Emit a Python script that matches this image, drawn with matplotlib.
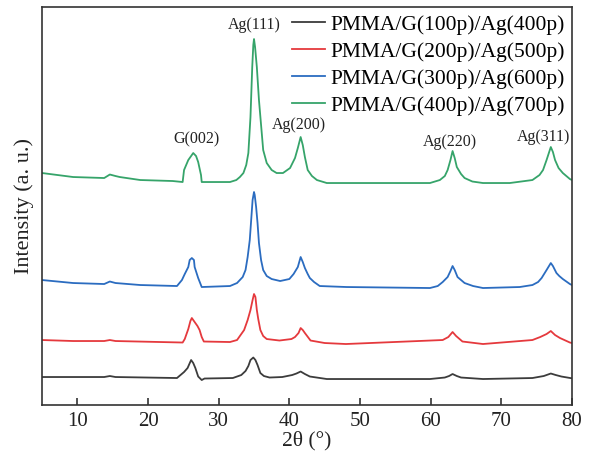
import matplotlib
matplotlib.use("Agg")
import matplotlib.pyplot as plt

plt.rcParams['font.family'] = ['Liberation Serif', 'DejaVu Serif']

# XRD patterns, stacked with an offset (arbitrary units)
two_theta_1 = [5.0, 13.8, 14.6, 15.4, 24.1, 24.6, 25.1, 25.6, 26.1, 26.4, 26.7, 27.1, 27.6,
               28.0, 32.0, 33.2, 33.8, 34.2, 34.5, 34.9, 35.2, 35.5, 35.9, 36.4, 37.2, 39.0,
               40.4, 41.0, 41.6, 42.2, 42.9, 45.3, 59.9, 62.0, 62.6, 63.1, 63.7, 64.3, 67.4,
               74.4, 76.0, 77.0, 77.7, 78.5, 80.0]
counts_1 = [28, 28, 29, 28, 27, 30, 33, 37, 45, 42, 37, 28.5, 25,
            26.5, 27, 30, 34, 39, 45, 47.5, 45, 40, 32, 29, 27.5, 28,
            30, 31.5, 33.5, 31, 28.5, 26, 26, 27.5, 29, 31, 29, 27.5, 26,
            27, 29, 31.5, 30, 28.5, 26.7]

two_theta_2 = [5.0, 9.4, 13.8, 14.6, 15.4, 24.9, 25.2, 25.7, 26.0, 26.2, 26.6, 27.0, 27.3,
               27.6, 27.9, 31.6, 32.6, 33.6, 34.1, 34.5, 34.8, 35.0, 35.2, 35.4, 35.6, 35.9,
               36.3, 36.8, 38.6, 40.3, 40.8, 41.3, 41.6, 41.9, 42.2, 43.0, 45.0, 48.0, 61.7,
               62.5, 63.1, 63.6, 64.5, 67.4, 74.4, 75.5, 76.4, 77.0, 77.6, 78.3, 79.7, 80.0]
counts_2 = [65, 64, 64, 65, 64, 62.5, 66, 76, 84, 87, 83, 79, 75,
            68, 63.5, 63, 65, 75, 85, 95, 105, 111, 108, 95, 86, 75,
            69, 66, 64.5, 66, 68, 72, 77, 75, 72, 64.5, 62, 61, 65,
            68, 73, 69, 63.5, 61, 65, 68, 71, 74, 70, 67, 62.5, 62]

two_theta_3 = [5.0, 9.4, 13.8, 14.6, 15.4, 18.9, 24.1, 24.8, 25.2, 25.7, 25.9, 26.2, 26.5,
               26.6, 27.1, 27.6, 31.6, 32.6, 33.4, 33.8, 34.1, 34.4, 34.6, 34.8, 35.0, 35.1,
               35.3, 35.5, 35.7, 36.0, 36.3, 36.8, 37.5, 38.7, 40.0, 40.6, 41.2, 41.6, 41.9,
               42.2, 42.6, 42.9, 43.5, 44.3, 48.1, 59.9, 61.0, 61.7, 62.4, 62.8, 63.1, 63.4,
               63.8, 64.3, 64.8, 66.0, 67.4, 72.6, 74.4, 75.2, 75.7, 76.4, 77.0, 77.3, 77.8,
               78.2, 78.7, 79.7, 80.0]
counts_3 = [125, 122, 121, 123.5, 122, 120, 119, 125, 131, 138, 145, 147, 145,
            138, 127, 118, 119, 122, 128, 135, 148, 165, 185, 205, 213, 210,
            198, 182, 162, 145, 135, 129, 126, 124, 126, 131, 138, 148, 143,
            137, 131, 127, 123, 119, 118, 117, 119, 123, 128, 134, 139, 135,
            128, 125, 122, 119, 117, 118, 120, 123, 127, 135, 142, 139, 132,
            129, 126, 121, 120]

two_theta_4 = [5.0, 9.4, 13.8, 14.6, 15.4, 16.0, 18.9, 23.5, 24.9, 25.1, 25.7, 26.4, 26.8,
               27.1, 27.5, 27.6, 31.6, 32.5, 33.0, 33.5, 33.9, 34.2, 34.5, 34.75, 34.9, 35.0,
               35.15, 35.4, 35.7, 36.0, 36.3, 36.8, 37.5, 38.2, 39.1, 40.1, 40.8, 41.2, 41.6,
               41.9, 42.2, 42.6, 43.2, 43.9, 45.3, 47.2, 59.9, 61.3, 62.0, 62.4, 62.8, 63.1,
               63.4, 63.7, 64.3, 64.8, 65.9, 67.4, 71.2, 74.4, 75.4, 75.9, 76.4, 77.0, 77.3,
               77.6, 78.1, 78.7, 79.7, 80.0]
counts_4 = [232, 228, 227, 230.5, 229, 228, 225, 224, 223, 235, 245, 252, 249,
            243, 230, 223, 223, 225, 228, 232, 240, 252, 288, 338, 360, 366,
            358, 338, 305, 280, 255, 242, 235, 232, 232, 237, 247, 257, 268,
            260, 248, 235, 229, 225, 222, 222, 222, 225, 229, 235, 245, 254,
            247, 238, 231, 227, 223.5, 222, 222, 225, 230, 235, 245, 258, 253,
            245, 237, 232, 226, 225]

samples = ['PMMA/G(100p)/Ag(400p)', 'PMMA/G(200p)/Ag(500p)',
           'PMMA/G(300p)/Ag(600p)', 'PMMA/G(400p)/Ag(700p)']
colors = ['#3c3c3c', '#e5393d', '#2b6cc0', '#36a46a']

# peak labels: text, 2theta, height
peak_names = ['G(002)', 'Ag(111)', 'Ag(200)', 'Ag(220)', 'Ag(311)']
peak_x = [26.8, 35.0, 41.4, 62.7, 75.9]
peak_y = [266, 380, 280, 263, 268]

fig = plt.figure(figsize=(5.9, 4.59), dpi=100)
ax = fig.add_axes([0.0712, 0.1176, 0.8983, 0.8671])

xs = [two_theta_1, two_theta_2, two_theta_3, two_theta_4]
ys = [counts_1, counts_2, counts_3, counts_4]
for x, y, lab, c in zip(xs, ys, samples, colors):
    ax.plot(x, y, color=c, lw=1.3, label=lab)

for name, px, py in zip(peak_names, peak_x, peak_y):
    ax.text(px, py, name, fontsize=11.5, ha='center', va='center', color='#222222')

ax.set_xlim(5, 80)
ax.set_ylim(0, 398)
ax.set_xticks([10, 20, 30, 40, 50, 60, 70, 80])
ax.set_yticks([])
ax.tick_params(axis='x', direction='in', length=5, width=1.1, labelsize=15,
               pad=5, colors='#222222')
for s in ax.spines.values():
    s.set_linewidth(1.2)
    s.set_color('#333333')

ax.set_xlabel('2θ (°)', fontsize=15.5, labelpad=0, color='#222222')
ax.set_ylabel('Intensity (a. u.)', fontsize=16, labelpad=6, color='#222222')

ax.legend(loc='upper right', frameon=False, fontsize=15.5, handlelength=1.5,
          handletextpad=0.25, labelspacing=0.32, borderaxespad=0.15, borderpad=0.2)

fig.savefig('out.png', dpi=100)
